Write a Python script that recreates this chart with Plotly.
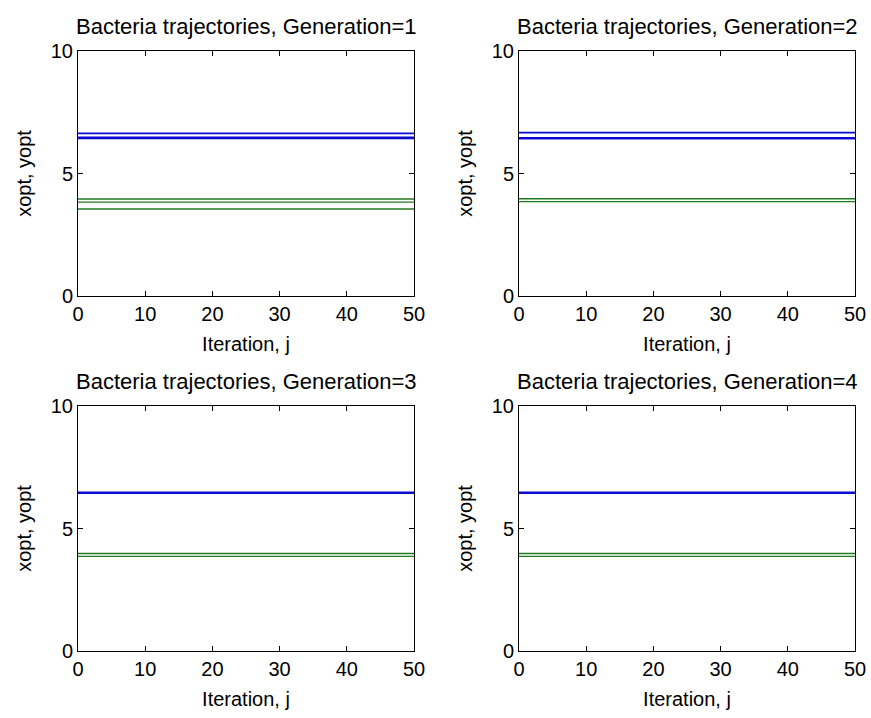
import plotly.graph_objects as go

# ---- data ----
generations = [1, 2, 3, 4]
iteration_span = [0, 50]          # trajectories are flat across iterations
x_ticks = [0, 10, 20, 30, 40, 50]
y_ticks = [0, 5, 10]

# xopt (blue) and yopt (green) values of each bacterium, per generation
gen1_xopt = [6.64, 6.47, 6.43]
gen1_yopt = [3.96, 3.83, 3.55]
gen2_xopt = [6.67, 6.45, 6.42]
gen2_yopt = [3.97, 3.85]
gen3_xopt = [6.47, 6.44]
gen3_yopt = [3.98, 3.86]
gen4_xopt = [6.47, 6.44]
gen4_yopt = [3.98, 3.86]

xopt_all = [gen1_xopt, gen2_xopt, gen3_xopt, gen4_xopt]
yopt_all = [gen1_yopt, gen2_yopt, gen3_yopt, gen4_yopt]

W, H = 871, 718
# panel boxes in pixels (left, right, top, bottom)
boxes = [(78, 414, 51, 296), (519, 855, 51, 296),
         (78, 414, 406, 651), (519, 855, 406, 651)]

FONT = "Liberation Sans, Arial, sans-serif"
BLUE = "#0a0ad0"
GREEN = "#1f7a1f"

fig = go.Figure()
layout = dict(
    width=W, height=H,
    margin=dict(l=0, r=0, t=0, b=0, autoexpand=False),
    paper_bgcolor="white", plot_bgcolor="white",
    showlegend=False,
    font=dict(family=FONT, size=20, color="black"),
)
annotations = []

for i, g in enumerate(generations):
    l, r, t, b = boxes[i]
    xa = "x" if i == 0 else f"x{i+1}"
    ya = "y" if i == 0 else f"y{i+1}"
    for v in xopt_all[i]:
        fig.add_trace(go.Scatter(x=iteration_span, y=[v, v], mode="lines",
                                 line=dict(color=BLUE, width=1.8),
                                 xaxis=xa, yaxis=ya, hoverinfo="skip"))
    for v in yopt_all[i]:
        fig.add_trace(go.Scatter(x=iteration_span, y=[v, v], mode="lines",
                                 line=dict(color=GREEN, width=1.3),
                                 xaxis=xa, yaxis=ya, hoverinfo="skip"))
    axis_common = dict(showgrid=False, zeroline=False, showline=True,
                       linecolor="black", linewidth=1, mirror="allticks",
                       ticks="inside", ticklen=5, tickcolor="black",
                       automargin=False,
                       tickfont=dict(family=FONT, size=20, color="black"))
    xkey = "xaxis" if i == 0 else f"xaxis{i+1}"
    ykey = "yaxis" if i == 0 else f"yaxis{i+1}"
    layout[xkey] = dict(axis_common,
                        domain=[l / W, r / W], range=[0, 50],
                        tickvals=x_ticks, anchor=ya,
                        title=dict(text="Iteration, j", standoff=12,
                                   font=dict(family=FONT, size=20)))
    layout[ykey] = dict(axis_common,
                        domain=[1 - b / H, 1 - t / H], range=[0, 10],
                        tickvals=y_ticks, anchor=xa,
                        title=dict(text="xopt, yopt", standoff=13,
                                   font=dict(family=FONT, size=20)))
    annotations.append(dict(
        text=f"Bacteria trajectories, Generation={g}",
        x=(l + r) / 2 / W, y=1 - (t - 10) / H, xref="paper", yref="paper",
        xanchor="center", yanchor="bottom", showarrow=False,
        font=dict(family=FONT, size=22, color="black")))

layout["annotations"] = annotations
fig.update_layout(**layout)
fig.write_html("out.html",
               config={"displayModeBar": False},
               post_script="document.body.style.margin='0';")
